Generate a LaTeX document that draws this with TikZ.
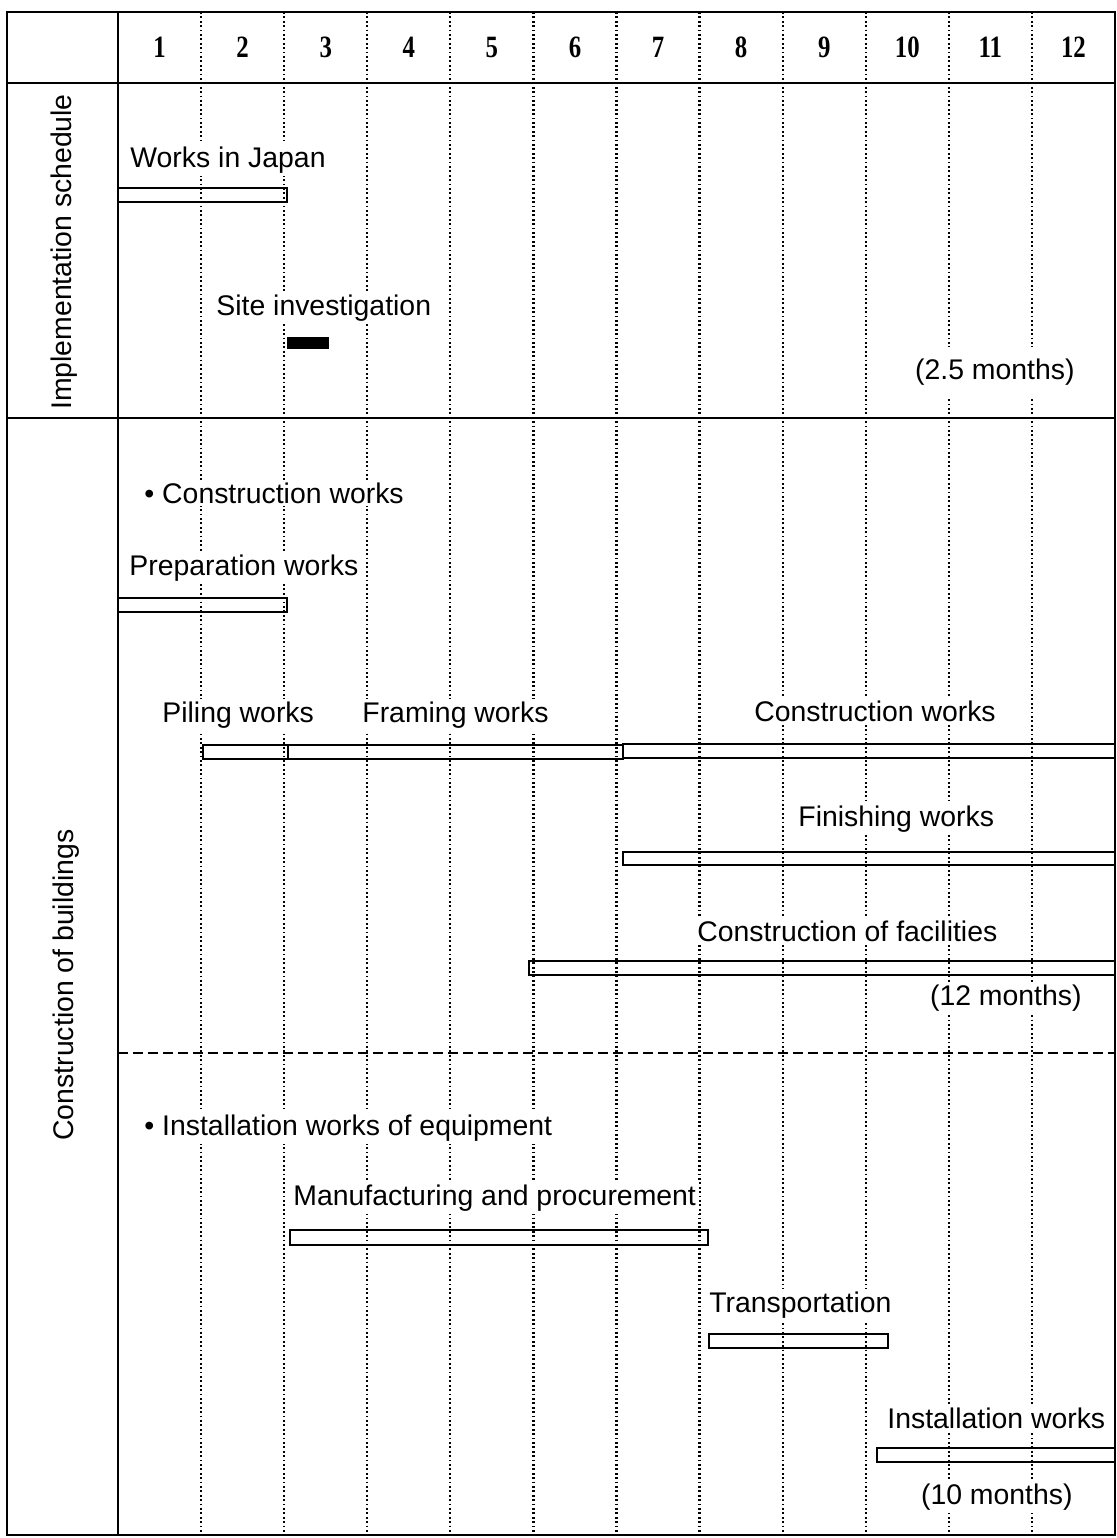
\documentclass[tikz,border=0pt]{standalone}
\usepackage{fontspec}
\setmainfont{Liberation Sans}
\newfontfamily\numfont{Liberation Serif}
\begin{document}
\begin{tikzpicture}[x=0.5pt,y=-0.5pt,
    lbl/.style={inner sep=1.5pt,fill=white,font=\fontsize{14.2}{16}\selectfont},
    num/.style={inner sep=1pt,font=\numfont\bfseries\fontsize{15.5}{17}\selectfont},
    monthline/.style={line width=1.1pt,dash pattern=on 0.9pt off 1.3pt},
    frame/.style={line width=1.3pt},
    bar/.style={draw,line width=1.1pt}]
  \useasboundingbox (0,0) rectangle (1117,1538);
  % months
  \foreach \i in {1,...,11}
    \draw[monthline] (118+83.08*\i,12) -- (118+83.08*\i,1535);
  \foreach \i in {1,...,12}
    \node[num] (m\i) at (118+83.08*\i-41.5,47) {\scalebox{0.8}[1]{\i}};
  \draw[frame] (7,12) rectangle (1115,1535);
  \draw[frame] (118,12) -- (118,1535);
  \draw[frame] (7,83) -- (1115,83);
  \draw[frame] (7,418) -- (1115,418);
  \draw[line width=0.9pt,dash pattern=on 5pt off 2.5pt] (118,1053) -- (1115,1053);
  % side labels
  \node[lbl,fill=none,rotate=90] (impl) at (64,252) {Implementation schedule};
  \node[lbl,fill=none,rotate=90] (bldg) at (66,985) {Construction of buildings};
  % implementation schedule
  \node[lbl,anchor=west] (japan) at (127,160) {Works in Japan};
  \draw[bar] (118,188) rectangle (287,202);
  \node[lbl,anchor=west] (site) at (213,308) {Site investigation};
  \fill (287,337) rectangle (329,349);
  \node[lbl,anchor=east,inner ysep=6pt] (dur1) at (1078,372) {(2.5 months)};
  % construction works
  \node[lbl,anchor=west] (cw) at (141,493) {\textbullet\ Construction works};
  \node[lbl,anchor=west] (prep) at (126,568) {Preparation works};
  \draw[bar] (118,598) rectangle (287,612);
  \node[lbl,anchor=west] (piling) at (159,715) {Piling works};
  \node[lbl,anchor=west] (framing) at (359,715) {Framing works};
  \node[lbl] (constr) at (875,711) {Construction works};
  \draw[bar] (203,745) rectangle (288,759);
  \draw[bar] (288,745) rectangle (623,759);
  \draw[bar] (623,744) rectangle (1115,758);
  \node[lbl,anchor=west] (finish) at (795,819) {Finishing works};
  \draw[bar] (623,852) rectangle (1115,865);
  \node[lbl,anchor=west] (facil) at (694,931) {Construction of facilities};
  \draw[bar] (529,961) rectangle (1115,975);
  \node[lbl,anchor=east] (dur2) at (1085,998) {(12 months)};
  % installation works
  \node[lbl,anchor=west] (iw) at (141,1128) {\textbullet\ Installation works of equipment};
  \node[lbl,anchor=west] (manuf) at (290,1198) {Manufacturing and procurement};
  \draw[bar] (290,1230) rectangle (708,1245);
  \node[lbl,anchor=west] (transp) at (706,1305) {Transportation};
  \draw[bar] (709,1334) rectangle (888,1348);
  \node[lbl,anchor=west] (install) at (884,1418) {Installation works};
  \draw[bar] (877,1448) rectangle (1115,1462);
  \node[lbl,anchor=east] (dur3) at (1076,1497) {(10 months)};
\end{tikzpicture}
\end{document}
